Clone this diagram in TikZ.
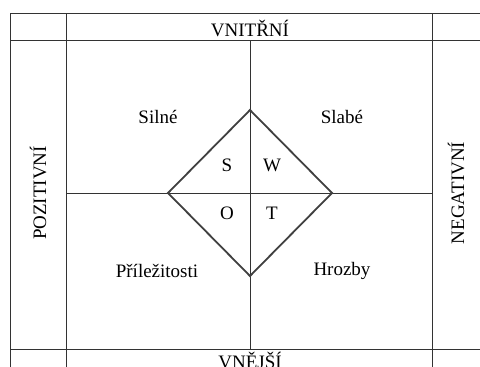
\documentclass[tikz,border=0pt]{standalone}
\usepackage{fontspec}
\setmainfont{Liberation Serif}
\begin{document}
\begin{tikzpicture}[x=1pt,y=-1pt,
  gridline/.style={draw=black!80,line width=0.9pt},
  diamondline/.style={draw=black!75,line width=1.8pt,line join=miter},
  lbl/.style={font=\fontsize{19}{21}\selectfont,inner sep=0pt},
  letter/.style={font=\fontsize{19}{21}\selectfont,inner sep=0pt}]
\useasboundingbox[fill=white] (0,0) rectangle (480,367);
% grid
\draw[gridline] (10,13) -- (485,13);
\draw[gridline] (10,40) -- (485,40);
\draw[gridline] (10,349) -- (485,349);
\draw[gridline] (10,13) -- (10,372);
\draw[gridline] (66,13) -- (66,372);
\draw[gridline] (432,13) -- (432,372);
\draw[gridline] (250,40) -- (250,349);
\draw[gridline] (66,193) -- (432,193);
% diamond
\coordinate (dt) at (250,110);
\coordinate (dr) at (332,193);
\coordinate (db) at (250,276);
\coordinate (dl) at (168,193);
\draw[diamondline] (dt) -- (dr) -- (db) -- (dl) -- cycle;
% labels
\node[lbl] (vn) at (250,28) {VNITŘNÍ};
\node[lbl,anchor=north] (ve) at (250,352) {VNĚJŠÍ};
\node[lbl,rotate=90] (poz) at (38,193) {POZITIVNÍ};
\node[lbl,rotate=90] (neg) at (456,193) {NEGATIVNÍ};
\node[lbl] (silne) at (158,117) {Silné};
\node[lbl] (slabe) at (342,117) {Slabé};
\node[lbl] (pril) at (157,271) {Příležitosti};
\node[lbl] (hroz) at (342,271) {Hrozby};
\node[letter] (s) at (227,165) {S};
\node[letter] (w) at (272,165) {W};
\node[letter] (o) at (227,213) {O};
\node[letter] (t) at (272,213) {T};
\end{tikzpicture}
\end{document}
